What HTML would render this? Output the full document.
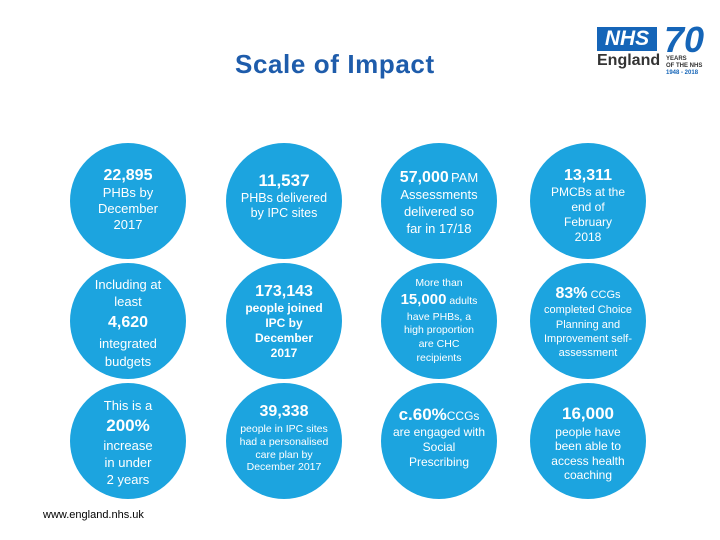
<!DOCTYPE html>
<html><head><meta charset="utf-8"><style>
body{margin:0;width:720px;height:540px;background:#fff;position:relative;overflow:hidden;font-family:"Liberation Sans",sans-serif}
.c{position:absolute;width:116px;height:116px;border-radius:50%;background:#1ca4df;color:#fff;text-align:center}
.t{position:absolute;left:-10px;right:-10px;text-align:center;line-height:1.15;color:#fff;font-size:8px}
.t span{display:inline-block}
.b{font-weight:bold}
</style></head><body>
<div style="position:absolute;left:235px;top:49px;font-size:26px;font-weight:bold;color:#1e5cab;letter-spacing:0.6px">Scale of Impact</div>
<div style="position:absolute;left:597px;top:27px;width:60px;height:24px;background:#1565b8;color:#fff;font-weight:bold;font-style:italic;font-size:21px;line-height:24px;text-align:center">NHS</div>
<div style="position:absolute;left:597px;top:52px;font-weight:bold;font-size:16px;color:#333">England</div>
<div style="position:absolute;left:664px;top:22px;font-weight:bold;font-style:italic;font-size:36px;color:#1565b8;line-height:36px">70</div>
<div style="position:absolute;left:666px;top:56px;font-size:6px;color:#333;line-height:7px;font-weight:bold">YEARS<br>OF THE NHS<br><span style="color:#1565b8">1948 - 2018</span></div>

<div class="c" style="left:70px;top:143px">
<div class="t" style="top:24px"><span class="b" style="font-size:16px">22,895</span><br><span style="font-size:13px;line-height:1.2">PHBs by<br>December<br>2017</span></div></div>
<div class="c" style="left:226px;top:143px">
<div class="t" style="top:28px"><span class="b" style="font-size:17px">11,537</span><br><span style="font-size:12.5px;line-height:1.25">PHBs delivered<br>by IPC sites</span></div></div>
<div class="c" style="left:381px;top:143px">
<div class="t" style="top:26px"><span class="b" style="font-size:16px">57,000</span> <span style="font-size:13px">PAM</span><br><span style="font-size:13px;line-height:1.3">Assessments<br>delivered so<br>far in 17/18</span></div></div>
<div class="c" style="left:530px;top:143px">
<div class="t" style="top:24px"><span class="b" style="font-size:16px">13,311</span><br><span style="font-size:12px;line-height:1.25">PMCBs at the<br>end of<br>February<br>2018</span></div></div>

<div class="c" style="left:70px;top:263px">
<div class="t" style="top:14px"><span style="font-size:13px;line-height:1.3">Including at<br>least</span><br><span class="b" style="font-size:16px;line-height:1.5">4,620</span><br><span style="font-size:13px;line-height:1.4">integrated<br>budgets</span></div></div>
<div class="c" style="left:226px;top:263px">
<div class="t" style="top:20px"><span class="b" style="font-size:16px">173,143</span><br><span class="b" style="font-size:12px;line-height:1.25">people joined<br>IPC by<br>December<br>2017</span></div></div>
<div class="c" style="left:381px;top:263px">
<div class="t" style="top:14px"><span style="font-size:10.5px">More than</span><br><span style="font-size:10.5px;line-height:1.45"><b style="font-size:15px">15,000</b> adults</span><br><span style="font-size:10.5px;line-height:1.3">have PHBs, a<br>high proportion<br>are CHC<br>recipients</span></div></div>
<div class="c" style="left:530px;top:263px">
<div class="t" style="top:22px"><span style="font-size:11px"><b style="font-size:16px">83%</b> CCGs</span><br><span style="font-size:11px;line-height:1.3">completed Choice<br>Planning and<br>Improvement self-<br>assessment</span></div></div>

<div class="c" style="left:70px;top:383px">
<div class="t" style="top:16px"><span style="font-size:13px">This is a</span><br><span class="b" style="font-size:17px;line-height:1.4">200%</span><br><span style="font-size:13px;line-height:1.3">increase<br>in under<br>2 years</span></div></div>
<div class="c" style="left:226px;top:383px">
<div class="t" style="top:18px"><span class="b" style="font-size:16px;line-height:1.4">39,338</span><br><span style="font-size:10.5px;line-height:1.2">people in IPC sites<br>had a personalised<br>care plan by<br>December 2017</span></div></div>
<div class="c" style="left:381px;top:383px">
<div class="t" style="top:22px"><span style="font-size:12px"><b style="font-size:17px">c.60%</b>CCGs</span><br><span style="font-size:12px;line-height:1.25">are engaged with<br>Social<br>Prescribing</span></div></div>
<div class="c" style="left:530px;top:383px">
<div class="t" style="top:20px"><span class="b" style="font-size:17px;line-height:1.3">16,000</span><br><span style="font-size:12px;line-height:1.2">people have<br>been able to<br>access health<br>coaching</span></div></div>

<div style="position:absolute;left:43px;top:509px;font-size:11px;color:#000">www.england.nhs.uk</div>
</body></html>
